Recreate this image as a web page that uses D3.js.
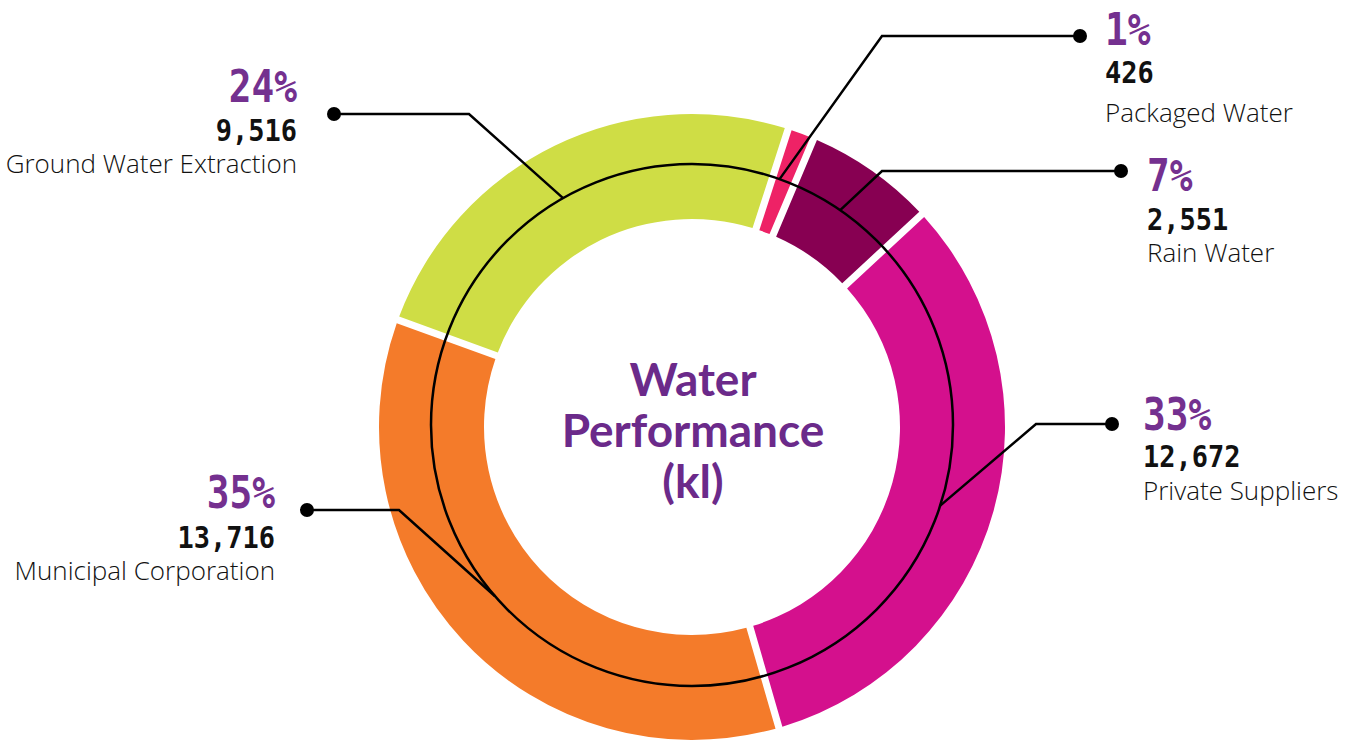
<!DOCTYPE html>
<html>
<head>
<meta charset="utf-8">
<script src="https://cdn.jsdelivr.net/npm/d3@7"></script>
<style>
  body { margin: 0; background: #fff; }
  svg { display: block; }
</style>
</head>
<body>
<div id="chart"></div>
<script>
// water sources, clockwise from the top
var sources = ["Packaged Water", "Rain Water", "Private Suppliers", "Municipal Corporation", "Ground Water Extraction"];
var volumes = [426, 2551, 12672, 13716, 9516];
var sliceColors = ["#ee2266", "#870052", "#d4108d", "#f47b2a", "#cfdd45"];
var titleLines = ["Water", "Performance", "(kl)"];

var width = 1365, height = 740;
var cx = 692, cy = 427;
var outerR = 313, innerR = 208;
var ringR = 261;

// callout placement: dot, elbow, angle where the line meets the thin ring, text anchor
var callouts = [
  { dot: [1080, 36], elbow: [882, 36], hit: 19.6, tx: 1105, ty: 45, anchor: "start", v: 38, l: 77 },
  { dot: [1121, 171], elbow: [882, 171], hit: 34.6, tx: 1147, ty: 191, anchor: "start", v: 39, l: 71 },
  { dot: [1112, 424], elbow: [1036, 424], hit: 108, tx: 1143, ty: 430, anchor: "start", v: 37, l: 70 },
  { dot: [307, 510], elbow: [399, 510], hit: 229, tx: 275, ty: 508, anchor: "end", v: 40, l: 72 },
  { dot: [334, 114], elbow: [469, 114], hit: 330.4, tx: 297, ty: 102, anchor: "end", v: 39, l: 71 }
];

var total = d3.sum(volumes);
var fmtPct = function(v) { return Math.round(v / total * 100) + "%"; };
var fmtNum = d3.format(",");

var svg = d3.select("#chart")
  .append("svg")
  .attr("width", width)
  .attr("height", height);

var start = 17.9 * Math.PI / 180;

var pie = d3.pie()
  .sort(null)
  .startAngle(start)
  .endAngle(start + 2 * Math.PI)
  .padAngle(0.019);

var arc = d3.arc()
  .innerRadius(innerR)
  .outerRadius(outerR);

var donut = svg.append("g")
  .attr("transform", `translate(${cx}, ${cy})`);

donut.selectAll("path")
  .data(pie(volumes))
  .enter()
  .append("path")
  .attr("d", arc)
  .attr("fill", (d, i) => sliceColors[i]);

// thin ring over the slices
svg.append("circle")
  .attr("cx", cx)
  .attr("cy", cy - 2)
  .attr("r", ringR)
  .attr("fill", "none")
  .attr("stroke", "#000")
  .attr("stroke-width", 2.5);

// centre title
svg.append("g").selectAll("text")
  .data(titleLines)
  .enter()
  .append("text")
  .attr("x", cx + 1)
  .attr("y", (d, i) => 396 + i * 51)
  .attr("text-anchor", "middle")
  .attr("font-family", "Lato, sans-serif")
  .attr("font-weight", "bold")
  .attr("font-size", "46px")
  .attr("fill", "#6b2a8a")
  .text(d => d);

// leader lines and labels
var lineGen = d3.line();
callouts.forEach(function(c, i) {
  var a = c.hit * Math.PI / 180;
  var end = [cx + ringR * Math.sin(a), cy - 2 - ringR * Math.cos(a)];
  svg.append("path")
    .attr("d", lineGen([c.dot, c.elbow, end]))
    .attr("fill", "none")
    .attr("stroke", "#000")
    .attr("stroke-width", 2.5);
  svg.append("circle")
    .attr("cx", c.dot[0])
    .attr("cy", c.dot[1])
    .attr("r", 7)
    .attr("fill", "#000");

  var g = svg.append("g")
    .attr("transform", `translate(${c.tx}, ${c.ty})`);

  g.append("text")
    .attr("transform", "scale(0.84, 1)")
    .attr("text-anchor", c.anchor)
    .attr("font-family", "'DejaVu Sans Mono', monospace")
    .attr("font-weight", "bold")
    .attr("font-size", "45px")
    .attr("fill", "#74308f")
    .text(fmtPct(volumes[i]));

  g.append("text")
    .attr("transform", `translate(0, ${c.v}) scale(0.87, 1)`)
    .attr("text-anchor", c.anchor)
    .attr("font-family", "'DejaVu Sans Mono', monospace")
    .attr("font-weight", "bold")
    .attr("font-size", "31px")
    .attr("fill", "#111")
    .text(fmtNum(volumes[i]));

  g.append("text")
    .attr("y", c.l)
    .attr("text-anchor", c.anchor)
    .attr("font-family", "'Open Sans', sans-serif")
    .attr("font-weight", 300)
    .attr("font-size", "26px")
    .attr("fill", "#111")
    .text(sources[i]);
});
</script>
</body>
</html>
